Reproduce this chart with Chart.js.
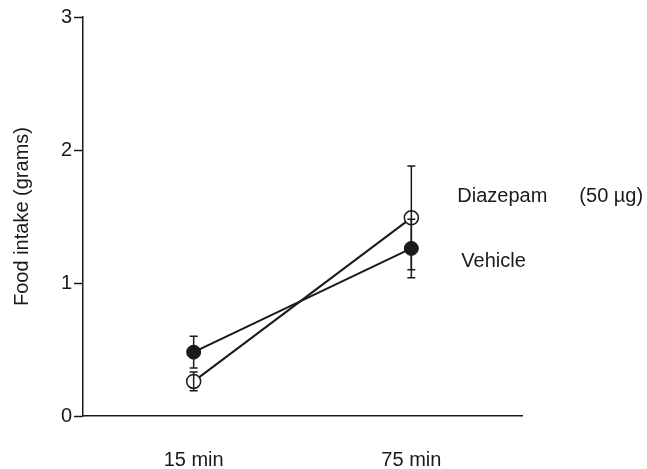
<!DOCTYPE html>
<html>
<head>
<meta charset="utf-8">
<script src="https://cdn.jsdelivr.net/npm/chart.js@4"></script>
<style>
  html, body { margin: 0; padding: 0; background: #fff; }
  canvas { display: block; }
</style>
</head>
<body>
<canvas id="intakeChart" width="647" height="469"></canvas>
<script>
// time points (minutes after injection)
const times = [15, 75];
const timeLabels = ['15 min', '75 min'];

// food intake in grams, means and error
const diazepamMeans = [0.26, 1.49];
const diazepamErrors = [0.07, 0.39];
const vehicleMeans = [0.48, 1.26];
const vehicleErrors = [0.12, 0.22];

const yTicks = [0, 1, 2, 3];
const doseLabel = '(50 µg)';

const FONT = '"Liberation Sans", Arial, Helvetica, sans-serif';
const INK = '#1a1a1a';

function toPoints(means) {
    return times.map(function (t, i) { return { x: t, y: means[i] }; });
}

const errorBars = {
    id: 'errorBars',
    afterDatasetsDraw: function (chart) {
        const ctx = chart.ctx;
        const xs = chart.scales.x;
        const ys = chart.scales.y;
        ctx.save();
        ctx.strokeStyle = INK;
        ctx.lineWidth = 1.5;
        chart.data.datasets.forEach(function (ds) {
            ds.errors.forEach(function (err, i) {
                const x = xs.getPixelForValue(ds.data[i].x);
                const top = ys.getPixelForValue(ds.data[i].y + err);
                const bottom = ys.getPixelForValue(ds.data[i].y - err);
                ctx.beginPath();
                ctx.moveTo(x, top);
                ctx.lineTo(x, bottom);
                ctx.moveTo(x - 4, top);
                ctx.lineTo(x + 4, top);
                ctx.moveTo(x - 4, bottom);
                ctx.lineTo(x + 4, bottom);
                ctx.stroke();
            });
        });
        ctx.restore();
    }
};

const seriesLabels = {
    id: 'seriesLabels',
    afterDraw: function (chart) {
        const ctx = chart.ctx;
        const xs = chart.scales.x;
        const ys = chart.scales.y;
        const x = xs.getPixelForValue(75);
        ctx.save();
        ctx.fillStyle = INK;
        ctx.font = '20px ' + FONT;
        ctx.textBaseline = 'middle';
        ctx.fillText('Diazepam', x + 46, ys.getPixelForValue(1.65));
        ctx.fillText(doseLabel, x + 168, ys.getPixelForValue(1.65));
        ctx.fillText('Vehicle', x + 50, ys.getPixelForValue(1.16));
        ctx.restore();
    }
};

new Chart(document.getElementById('intakeChart'), {
    type: 'scatter',
    data: {
        datasets: [{
            label: 'Vehicle',
            data: toPoints(vehicleMeans),
            errors: vehicleErrors,
            showLine: true,
            borderColor: INK,
            borderWidth: 2,
            pointRadius: 7,
            pointBackgroundColor: INK,
            pointBorderColor: INK,
            pointBorderWidth: 1
        }, {
            label: 'Diazepam',
            data: toPoints(diazepamMeans),
            errors: diazepamErrors,
            showLine: true,
            borderColor: INK,
            borderWidth: 2,
            pointRadius: 7,
            pointBackgroundColor: '#fff',
            pointBorderColor: INK,
            pointBorderWidth: 1.5
        }]
    },
    options: {
        responsive: false,
        animation: false,
        layout: {
            padding: { top: 17, right: 125, bottom: 0, left: 0 }
        },
        plugins: {
            legend: { display: false },
            tooltip: { enabled: false }
        },
        scales: {
            x: {
                type: 'linear',
                min: -15.5,
                max: 105.5,
                afterFit: function (scale) { scale.height = 53; },
                afterBuildTicks: function (scale) {
                    scale.ticks = times.map(function (t) { return { value: t }; });
                },
                ticks: {
                    padding: 32,
                    color: INK,
                    font: { family: FONT, size: 20 },
                    callback: function (value) {
                        return timeLabels[times.indexOf(value)];
                    }
                },
                grid: { drawOnChartArea: false, drawTicks: false },
                border: { display: true, color: INK, width: 1.5 }
            },
            y: {
                min: 0,
                max: 3,
                afterFit: function (scale) { scale.width = 83; },
                afterBuildTicks: function (scale) {
                    scale.ticks = yTicks.map(function (v) { return { value: v }; });
                },
                ticks: {
                    padding: 2,
                    color: INK,
                    font: { family: FONT, size: 20 }
                },
                grid: {
                    drawOnChartArea: false,
                    drawTicks: true,
                    tickLength: 9,
                    tickWidth: 1.5,
                    tickColor: INK
                },
                border: { display: true, color: INK, width: 1.5 },
                title: {
                    display: true,
                    text: 'Food intake (grams)',
                    color: INK,
                    font: { family: FONT, size: 20 },
                    padding: { top: 10, bottom: 0 }
                }
            }
        }
    },
    plugins: [errorBars, seriesLabels]
});
</script>
</body>
</html>
